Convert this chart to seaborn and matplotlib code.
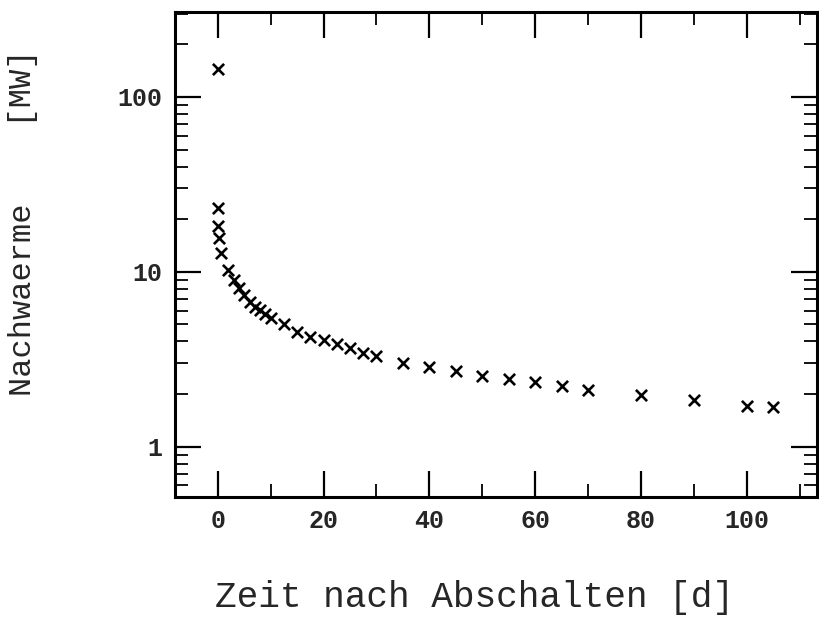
import matplotlib
matplotlib.use("Agg")
import matplotlib.pyplot as plt
import matplotlib.ticker as mticker
import seaborn as sns
import pandas as pd

# Data
time_days = [0, 0.04, 0.1, 0.25, 0.6, 2, 3, 4, 5, 6, 7, 8, 9, 10,
             12.5, 15, 17.5, 20, 22.5, 25, 27.5, 30, 35, 40, 45, 50,
             55, 60, 65, 70, 80, 90, 100, 105]
heat_mw = [145, 23.1, 18.2, 15.5, 12.8, 10.3, 9.0, 8.1, 7.4, 6.7, 6.3, 6.05, 5.7, 5.45,
           5.0, 4.55, 4.25, 4.05, 3.85, 3.65, 3.45, 3.3, 3.02, 2.86, 2.7, 2.54,
           2.44, 2.33, 2.21, 2.12, 1.98, 1.84, 1.71, 1.69]
x_ticks = [0, 20, 40, 60, 80, 100]
y_ticks = [1, 10, 100]
x_label = "Zeit nach Abschalten [d]"
y_label = "Nachwaerme    [MW]"

df = pd.DataFrame({"t": time_days, "p": heat_mw})

sns.set_theme(style="ticks")
plt.rcParams['font.family'] = ['Liberation Mono', 'DejaVu Sans Mono']

fig = plt.figure(figsize=(8.19, 6.24), dpi=100)
ax = fig.add_axes([175/819, 1-497/624, 642/819, 485/624])

sns.scatterplot(data=df, x="t", y="p", marker="x", color="black", s=65,
                linewidth=1.9, ax=ax, legend=False)

ax.set_yscale("log")
ax.set_xlim(-8.1, 113.3)
ax.set_ylim(0.515, 306)

ax.set_xticks(x_ticks)
ax.xaxis.set_minor_locator(mticker.MultipleLocator(10))
ax.set_yticks(y_ticks)
ax.yaxis.set_minor_locator(mticker.LogLocator(base=10, subs=range(2, 10)))
ax.yaxis.set_minor_formatter(mticker.NullFormatter())
ax.yaxis.set_major_formatter(mticker.FuncFormatter(lambda v, p: f"{v:g}"))

ax.tick_params(which="both", direction="in", top=True, right=True, color="black")
ax.tick_params(which="major", length=19, width=1.6, labelsize=18, pad=9)
ax.tick_params(which="minor", length=9.5, width=1.3)
for lab in ax.get_xticklabels() + ax.get_yticklabels():
    lab.set_fontweight("bold")

for sp in ax.spines.values():
    sp.set_linewidth(2.2)
    sp.set_color("black")

ax.set_xlabel(x_label, fontsize=26)
ax.set_ylabel(y_label, fontsize=23)
ax.xaxis.set_label_coords(0.466, -0.171)
ax.yaxis.set_label_coords(-0.213, 0.565)

fig.savefig("out.png", dpi=100, facecolor="white")
